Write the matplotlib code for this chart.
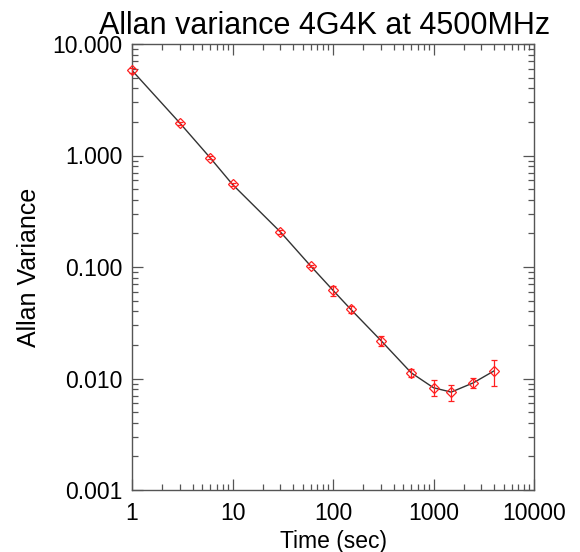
import matplotlib
matplotlib.use("Agg")
import matplotlib.pyplot as plt
from matplotlib.ticker import LogLocator, FixedLocator, NullFormatter

plt.rcParams['font.family'] = ['Liberation Sans', 'DejaVu Sans']

time_sec = [1, 3, 6, 10, 30, 60, 100, 150, 300, 600, 1000, 1500, 2500, 4000]
allan_var = [5.8, 1.95, 0.953, 0.55, 0.206, 0.102, 0.0618, 0.0418, 0.0219,
             0.01125, 0.00826, 0.00755, 0.00916, 0.0117]
allan_err = [0.25, 0.06, 0.03, 0.018, 0.007, 0.003, 0.0063, 0.0029, 0.0022,
             0.00085, 0.00136, 0.00125, 0.00088, 0.0031]

x_ticks = [1, 10, 100, 1000, 10000]
x_labels = ['1', '10', '100', '1000', '10000']
y_ticks = [0.001, 0.01, 0.1, 1, 10]
y_labels = ['0.001', '0.010', '0.100', '1.000', '10.000']

fig = plt.figure(figsize=(5.8, 5.52), dpi=100)
ax = fig.add_axes([132/580, 1-490/552, (534-132)/580, (490-44)/552])

ax.plot(time_sec, allan_var, color='#333333', lw=1.0, zorder=2)
ax.errorbar(time_sec, allan_var, yerr=allan_err, fmt='D', ms=5, mfc='none',
            mec='#ff2020', mew=0.9, ecolor='#ff2020', elinewidth=0.9,
            capsize=2.5, capthick=0.9, zorder=3, clip_on=False)

ax.set_xscale('log')
ax.set_yscale('log')
ax.set_xlim(1, 10000)
ax.set_ylim(0.001, 10)

ax.xaxis.set_major_locator(FixedLocator(x_ticks))
ax.yaxis.set_major_locator(FixedLocator(y_ticks))
ax.set_xticklabels(x_labels)
ax.set_yticklabels(y_labels)
ax.xaxis.set_minor_locator(LogLocator(base=10, subs=range(2, 10), numticks=20))
ax.yaxis.set_minor_locator(LogLocator(base=10, subs=range(2, 10), numticks=20))
ax.xaxis.set_minor_formatter(NullFormatter())
ax.yaxis.set_minor_formatter(NullFormatter())

ax.tick_params(which='both', direction='in', top=True, right=True, color='#555555',
               width=0.9, labelsize=16.5, pad=7)
ax.tick_params(axis='x', which='major', pad=9)
ax.tick_params(which='major', length=8)
ax.tick_params(which='minor', length=4)
for s in ax.spines.values():
    s.set_color('#555555')
    s.set_linewidth(1.0)

ax.set_xlabel('Time (sec)', fontsize=16.5, labelpad=3)
ax.set_ylabel('Allan Variance', fontsize=18, labelpad=8)
ax.set_title('Allan variance 4G4K at 4500MHz', fontsize=22, pad=7,
             x=(325-132)/402)

fig.savefig('out.png', dpi=100)
